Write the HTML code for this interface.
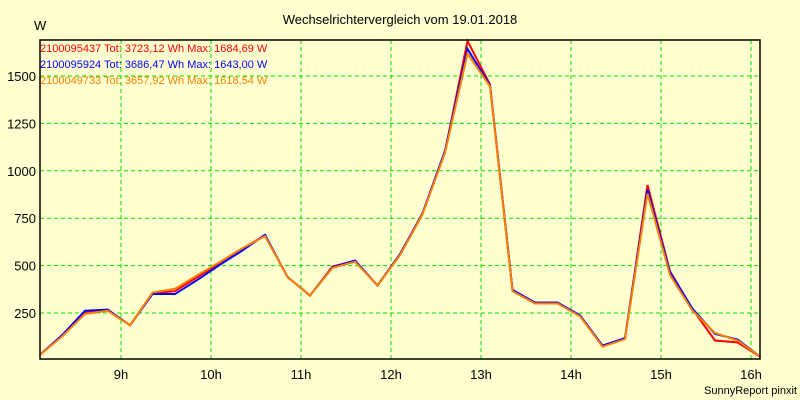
<!DOCTYPE html>
<html><head><meta charset="utf-8"><style>
body{margin:0;background:#ffffd0;}
svg{display:block;font-family:"Liberation Sans",sans-serif;}
</style></head><body>
<svg id="chart" width="800" height="400">
<rect x="0" y="0" width="800" height="400" fill="#ffffd0"/>
<text x="400" y="24" font-size="13" text-anchor="middle">Wechselrichtervergleich vom 19.01.2018</text>
<text x="34" y="30" font-size="13">W</text>
<g id="grid"></g>
<g id="series"></g>
<path d="M40 40 H760 V359 H40 Z" fill="none" stroke="#000" stroke-width="1.5"/>
<g id="ticks"></g>
<text x="40" y="52" font-size="11" fill="#ff0000">2100095437 Tot: 3723,12 Wh Max: 1684,69 W</text>
<text x="40" y="68" font-size="11" fill="#0000ff">2100095924 Tot: 3686,47 Wh Max: 1643,00 W</text>
<text x="40" y="84" font-size="11" fill="#ff8000">2100049733 Tot: 3657,92 Wh Max: 1618,54 W</text>
<text x="797" y="394" font-size="11" text-anchor="end">SunnyReport pinxit</text>
</svg>
<script>
const times=[8.1,8.35,8.6,8.85,9.1,9.35,9.6,9.85,10.1,10.35,10.6,10.85,11.1,11.35,11.6,11.85,12.1,12.35,12.6,12.85,13.1,13.35,13.6,13.85,14.1,14.35,14.6,14.85,15.1,15.35,15.6,15.85,16.1];
const seriesRed=[30,130,255,268,185,355,365,440,515,590,660,440,342,495,525,395,560,775,1100,1685,1455,370,305,305,235,75,115,925,470,270,105,95,20];
const seriesBlue=[30,135,262,268,185,350,350,425,505,580,662,440,342,492,527,395,560,775,1105,1643,1450,372,305,305,238,78,118,900,465,272,140,110,20];
const seriesOrange=[30,128,245,262,185,358,378,450,520,592,655,440,342,488,520,395,555,770,1095,1618,1445,365,300,300,233,72,112,880,450,262,145,105,20];
const yTicks=[250,500,750,1000,1250,1500];
const xTicks=[9,10,11,12,13,14,15,16];
const xTickLabels=["9h","10h","11h","12h","13h","14h","15h","16h"];
const NS="http://www.w3.org/2000/svg";
const X=t=>40+(t-8.1)*90;
const Y=v=>360.4-v*0.1896;
const grid=document.getElementById('grid'),ticks=document.getElementById('ticks'),ser=document.getElementById('series');
yTicks.forEach(v=>{
 const l=document.createElementNS(NS,'line');
 
 
 l.setAttribute('x1',40);l.setAttribute('x2',760);l.setAttribute('y1',Y(v));l.setAttribute('y2',Y(v));
 l.setAttribute('stroke','#00e000');l.setAttribute('stroke-dasharray','4,3');grid.appendChild(l);
 const t=document.createElementNS(NS,'text');
 
 
 t.setAttribute('x',36);t.setAttribute('y',Y(v)+5);t.setAttribute('font-size','13');t.setAttribute('text-anchor','end');
 t.textContent=v;ticks.appendChild(t);
});
xTicks.forEach((h,i)=>{
 const l=document.createElementNS(NS,'line');
 
 
 l.setAttribute('x1',X(h));l.setAttribute('x2',X(h));l.setAttribute('y1',40);l.setAttribute('y2',359);
 l.setAttribute('stroke','#00e000');l.setAttribute('stroke-dasharray','4,3');grid.appendChild(l);
 const t=document.createElementNS(NS,'text');
 
 
 t.setAttribute('x',X(h));t.setAttribute('y',379);t.setAttribute('font-size','13');t.setAttribute('text-anchor','middle');
 t.textContent=xTickLabels[i];ticks.appendChild(t);
});
[[seriesRed,'#ff0000','series-red'],[seriesBlue,'#0000ff','series-blue'],[seriesOrange,'#ff8000','series-orange']].forEach(([d,c,n])=>{
 const p=document.createElementNS(NS,'polyline');
 
 
 p.setAttribute('points',d.map((v,i)=>X(times[i])+','+Y(v)).join(' '));
 p.setAttribute('fill','none');p.setAttribute('stroke',c);p.setAttribute('stroke-width','2');
 ser.appendChild(p);
});
</script>
</body></html>
